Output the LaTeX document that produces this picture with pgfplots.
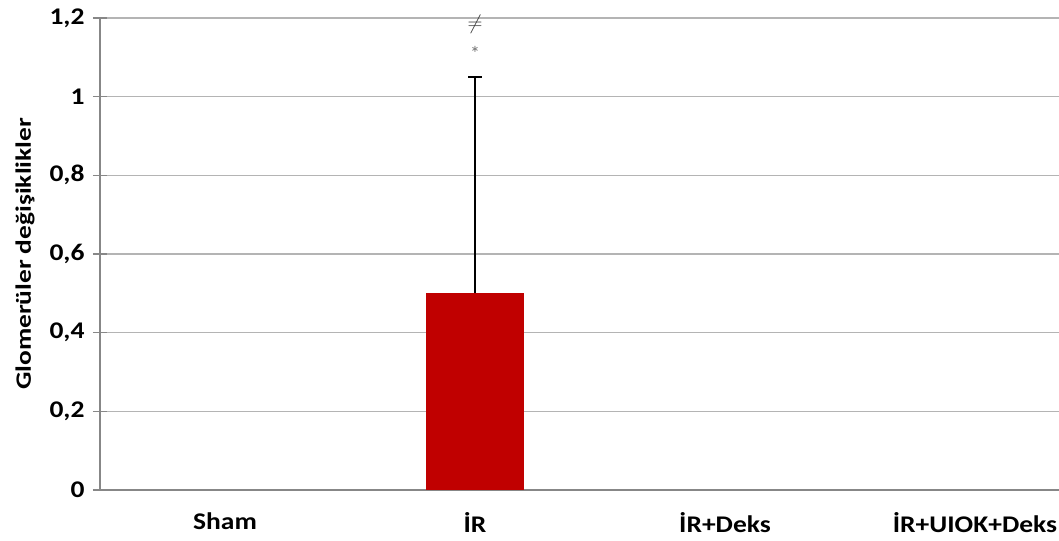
\documentclass[border=0pt]{standalone}
\usepackage{fontspec}
\setmainfont{Carlito}
\newfontfamily\lblfont{Carlito}[FakeStretch=1.15]
\newfontfamily\ylblfont{Carlito}[FakeStretch=1.25]
\usepackage{pgfplots}
\pgfplotsset{compat=1.18}
\definecolor{barred}{HTML}{C00000}
\definecolor{axgray}{HTML}{878787}
\definecolor{gridgray}{HTML}{B4B4B4}
\begin{document}
\begin{tikzpicture}
\begin{axis}[
  name=ax,
  scale only axis,
  width=959bp, height=472bp,
  xmin=-0.5, xmax=3.336,
  ymin=0, ymax=1.2,
  axis lines=left,
  axis line style={-, axgray, line width=1.6bp},
  xtick={0,1,2,3},
  xticklabels={Sham,İR,İR+Deks,İR+UIOK+Deks},
  x tick label style={font=\lblfont\bfseries\fontsize{24}{26}\selectfont, yshift=-12bp},
  extra x ticks={-0.5,0.5,1.5,2.5},
  extra x tick labels={},
  extra x tick style={major tick length=6bp, tick style={axgray, line width=1.4bp}, tick align=outside, grid=none},
  x tick style={draw=none},
  ytick={0,0.2,0.4,0.6,0.8,1,1.2},
  yticklabels={0,{0,2},{0,4},{0,6},{0,8},1,{1,2}},
  y tick label style={font=\lblfont\bfseries\fontsize{24}{26}\selectfont, xshift=-5bp},
  y tick style={axgray, line width=1.4bp},
  tick align=center,
  major tick length=14bp,
  ymajorgrids,
  grid style={gridgray, line width=1.2bp},
  ylabel={Glomerüler değişiklikler},
  ylabel style={font=\ylblfont\bfseries\fontsize{22}{24}\selectfont, yshift=8bp},
  /pgf/number format/assume math mode=true,
  clip=false,
]
\addplot[ybar, bar width=0.39, fill=barred, draw=none,
  error bars/.cd, y dir=plus, y explicit,
  error bar style={black, line width=2.8bp}, error mark options={black, line width=2bp, mark size=7bp, rotate=90}]
  coordinates {(1,0.5) +- (0,0.55)};
\node[font=\fontsize{21}{21}\selectfont, text=black!80] at (axis cs:1,1.185) {$\neq$};
\node[font=\fontsize{20}{20}\selectfont, text=black!55] at (axis cs:1,1.11) {*};
\end{axis}
\pgfresetboundingbox
\path ([xshift=-100bp,yshift=-51bp]ax.south west) rectangle ([yshift=18bp]ax.north east);
\end{tikzpicture}
\end{document}
